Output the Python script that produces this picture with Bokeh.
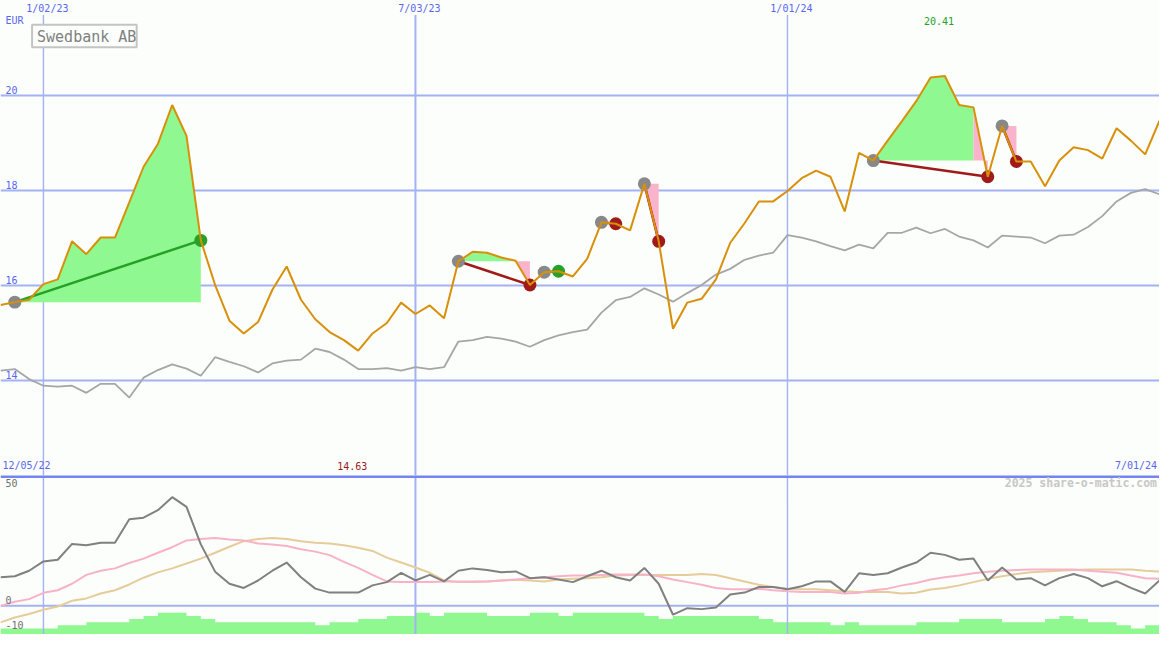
import numpy as np
import pandas as pd
from bokeh.plotting import figure
from bokeh.layouts import column
from bokeh.models import Range1d
from bokeh.core.properties import value
from bokeh.embed import file_html
from bokeh.resources import INLINE

# ---------------- data ----------------
title = "Swedbank AB"
currency = "EUR"
first_week = "2022-12-12"
range_start_label = "12/05/22"
range_end_label = "7/01/24"
watermark = "2025 share-o-matic.com"

price = [15.59, 15.65, 15.70, 16.03, 16.13, 16.93, 16.66, 17.01, 17.01, 17.75,
         18.50, 18.98, 19.80, 19.15, 16.95, 16.01, 15.26, 14.99, 15.23, 15.91,
         16.40, 15.70, 15.29, 15.02, 14.85, 14.63, 14.99, 15.21, 15.64, 15.40,
         15.58, 15.31, 16.51, 16.71, 16.69, 16.59, 16.52, 16.01, 16.28, 16.30,
         16.19, 16.56, 17.33, 17.30, 17.16, 18.14, 16.93, 15.09, 15.64, 15.72,
         16.13, 16.90, 17.31, 17.77, 17.77, 17.99, 18.26, 18.42, 18.29, 17.56,
         18.79, 18.63, 19.05, 19.46, 19.88, 20.38, 20.41, 19.80, 19.75, 18.29,
         19.36, 18.61, 18.61, 18.09, 18.63, 18.91, 18.85, 18.67, 19.31, 19.05,
         18.76, 19.47]

benchmark = [14.21, 14.24, 14.03, 13.89, 13.87, 13.89, 13.74, 13.93, 13.93, 13.64,
             14.06, 14.22, 14.34, 14.25, 14.10, 14.49, 14.39, 14.30, 14.17, 14.36,
             14.42, 14.44, 14.67, 14.60, 14.44, 14.24, 14.24, 14.26, 14.21, 14.28,
             14.24, 14.28, 14.82, 14.85, 14.92, 14.88, 14.82, 14.71, 14.85, 14.95,
             15.02, 15.07, 15.43, 15.69, 15.76, 15.94, 15.81, 15.66, 15.84, 16.01,
             16.23, 16.35, 16.54, 16.63, 16.69, 17.06, 17.01, 16.93, 16.83, 16.74,
             16.86, 16.78, 17.11, 17.11, 17.22, 17.10, 17.19, 17.03, 16.95, 16.80,
             17.05, 17.03, 17.01, 16.89, 17.05, 17.07, 17.23, 17.46, 17.77, 17.95,
             18.03, 17.92]

osc_main = [12.2, 12.6, 15.0, 19.0, 19.7, 26.5, 25.9, 27.0, 27.0, 37.1,
            37.8, 41.0, 46.6, 42.4, 26.3, 14.6, 9.4, 7.6, 10.8, 15.0,
            18.5, 12.2, 7.3, 5.6, 5.6, 5.6, 8.7, 10.1, 14.1, 10.8,
            13.2, 10.4, 15.0, 16.0, 15.3, 14.3, 14.7, 11.8, 12.2, 11.2,
            10.1, 12.6, 15.0, 12.2, 10.8, 16.2, 9.4, -3.9, -1.1, -1.5,
            -0.8, 4.8, 5.6, 8.0, 8.0, 7.0, 8.3, 10.4, 10.4, 5.9,
            13.9, 13.2, 13.9, 16.4, 18.5, 22.7, 21.8, 19.7, 20.2, 10.8,
            16.4, 11.2, 11.8, 8.7, 11.8, 13.6, 11.8, 8.3, 10.5, 7.6,
            5.2, 10.8]

osc_pink = [-0.1, 1.7, 2.8, 5.5, 6.6, 9.4, 13.2, 15.0, 16.0, 18.3,
            20.2, 22.7, 25.1, 28.0, 28.6, 29.1, 28.4, 28.0, 26.7, 26.3,
            25.6, 24.2, 23.2, 21.7, 18.8, 16.2, 13.2, 10.4, 10.1, 10.1,
            10.1, 10.4, 10.4, 10.4, 10.4, 10.8, 11.2, 11.8, 12.2, 12.6,
            12.9, 12.9, 13.2, 13.4, 13.4, 13.4, 12.6, 11.2, 10.1, 9.0,
            7.6, 7.0, 7.0, 7.3, 6.6, 6.2, 5.9, 5.9, 5.9, 5.2,
            5.5, 6.6, 7.3, 8.7, 9.7, 11.2, 12.2, 12.9, 13.9, 14.6,
            15.0, 15.3, 15.5, 15.5, 15.5, 15.5, 15.0, 14.6, 14.1, 12.9,
            11.8, 11.5]

osc_tan = [-7.2, -5.1, -3.6, -1.8, -0.4, 2.1, 3.1, 5.2, 6.6, 9.1,
           12.0, 14.3, 16.0, 18.1, 20.2, 22.7, 25.3, 27.7, 28.6, 29.1,
           28.6, 27.7, 27.0, 26.7, 25.9, 24.9, 23.5, 20.6, 18.5, 16.4,
           14.1, 10.8, 10.1, 10.1, 10.4, 10.8, 11.1, 10.8, 10.4, 11.2,
           11.5, 11.8, 12.2, 12.9, 13.2, 13.2, 13.2, 13.2, 13.2, 13.6,
           13.2, 11.8, 10.4, 9.0, 8.0, 7.3, 7.0, 7.0, 6.6, 6.2,
           5.9, 5.9, 5.9, 5.2, 5.5, 6.9, 7.6, 8.7, 10.1, 11.5,
           12.6, 13.6, 14.3, 14.7, 15.0, 15.3, 15.5, 15.5, 15.5, 15.5,
           15.0, 14.6]

volume_level = [1, 1, 1, 1, 2, 2, 3, 3, 3, 4, 5, 6, 6, 5, 4,
                3, 3, 3, 3, 3, 3, 3, 2, 3, 3, 4, 4, 5, 5, 6,
                5, 6, 6, 6, 5, 5, 5, 6, 6, 5, 6, 6, 6, 6, 6,
                5, 4, 5, 5, 5, 5, 5, 5, 4, 3, 3, 3, 3, 2, 3,
                2, 2, 2, 2, 3, 3, 3, 4, 4, 4, 3, 3, 3, 4, 5,
                4, 3, 3, 2, 1, 2]

trade_entry = [1, 32, 38, 42, 45, 61, 70]
trade_exit = [14, 37, 39, 43, 46, 69, 71]

price_ticks = [14, 16, 18, 20]
osc_ticks = [50, 0, -10]
osc_grid = [0]
date_lines = ["2023-01-02", "2023-07-03", "2024-01-01"]
date_labels = ["1/02/23", "7/03/23", "1/01/24"]
date_line_widths = [1.4, 2, 1.4]

# ---------------- styling ----------------
BG = "#fbfefa"
GRID = "#a4b2f2"
BLUE_TXT = "#5a66ee"
SEP = "#7484f0"
ORANGE = "#d8900a"
GREEN_FILL = "#90f890"
PINK_FILL = "#f9b4cc"
WIN = "#26a026"
LOSS = "#a01a1a"
FONT = value("DejaVu Sans Mono")

W, HT, HB = 1159, 475, 159

dates = pd.date_range(first_week, periods=len(price), freq="7D")
x = np.array([(d - pd.Timestamp("1970-01-01")) / pd.Timedelta(milliseconds=1) for d in dates])
WEEK = x[1] - x[0]
T_MIN, T_MAX = 12.0, 22.0
B_MIN, B_MAX = -12.4, 55.9


def xa(px):  # reference pixel column -> time
    return x[0] + px / 14.5 * WEEK


def yt(py):  # reference pixel row -> top panel value
    return T_MAX - py / 48.8


def yb(py):  # reference pixel row -> bottom panel value
    return B_MAX - (py - 488) * (B_MAX - B_MIN) / 162.0


def ms(d):
    return (pd.Timestamp(d) - pd.Timestamp("1970-01-01")) / pd.Timedelta(milliseconds=1)


dl = [ms(d) for d in date_lines]

# ---------------- top panel ----------------
p = figure(width=W, height=HT, x_range=Range1d(x[0], x[-1]), y_range=Range1d(T_MIN, T_MAX),
           x_axis_location=None, y_axis_location=None, output_backend="svg",
           toolbar_location=None, min_border=0, outline_line_color=None,
           background_fill_color=BG, border_fill_color=BG)
p.grid.visible = False

# grid
p.segment(x0=[x[0]] * len(price_ticks), x1=[x[-1]] * len(price_ticks),
          y0=price_ticks, y1=price_ticks, line_color=GRID, line_width=2)
for d, w in zip(dl, date_line_widths):
    p.segment(x0=[d], x1=[d], y0=[yt(15)], y1=[T_MIN], line_color=GRID, line_width=w)

# trade fills
fill_xs, fill_ys, fill_cols = [], [], []
for e, q in zip(trade_entry, trade_exit):
    base = price[e]
    j = e
    while j < q:
        up = price[j + 1] >= base
        m = j
        while m + 1 < q and (price[m + 2] >= base) == up:
            m += 1
        fill_xs.append([x[j]] + list(x[j:m + 2]) + [x[m + 1]])
        fill_ys.append([base] + list(price[j:m + 2]) + [base])
        fill_cols.append(GREEN_FILL if up else PINK_FILL)
        j = m + 1
p.patches(fill_xs, fill_ys, fill_color=fill_cols, line_color=None)

# benchmark
p.line(x, benchmark, line_color="#a6a6a6", line_width=1.8)

# trade connectors & markers
win = [price[q] >= price[e] for e, q in zip(trade_entry, trade_exit)]
tcol = [WIN if w else LOSS for w in win]
p.segment(x0=x[trade_entry], y0=[price[e] for e in trade_entry],
          x1=x[trade_exit], y1=[price[q] for q in trade_exit],
          line_color=tcol, line_width=2.5)
p.scatter(x[trade_entry], [price[e] for e in trade_entry], size=13,
          fill_color="#888888", line_color=None)
p.scatter(x[trade_exit], [price[q] for q in trade_exit], size=13,
          fill_color=tcol, line_color=None)

# price
p.line(x, price, line_color=ORANGE, line_width=2)

# title box
p.quad(left=[xa(32)], right=[xa(138)], top=[yt(25)], bottom=[yt(48)],
       fill_color=BG, line_color="#c4c4c4", line_width=2)
p.text(x=[xa(37)], y=[yt(37)], text=[title], text_font=FONT, text_font_size="15px",
       text_color="#808080", text_baseline="middle", text_align="left")

# labels
p.text(x=[xa(5)], y=[yt(21)], text=[currency], text_font=FONT, text_font_size="10px",
       text_color=BLUE_TXT, text_baseline="middle")
p.text(x=[xa(5)] * len(price_ticks), y=[t + 6 / 48.8 for t in price_ticks],
       text=[str(t) for t in price_ticks], text_font=FONT, text_font_size="10px",
       text_color=BLUE_TXT, text_baseline="middle")
p.text(x=[d + 4 / 14.5 * WEEK for d in dl], y=[yt(8)] * len(dl), text=date_labels,
       text_font=FONT, text_font_size="10px", text_color=BLUE_TXT,
       text_baseline="middle", text_align="center")
imax = int(np.argmax(price))
imin = int(np.argmin(price))
p.text(x=[x[imax] - 6 / 14.5 * WEEK], y=[yt(21)], text=[f"{price[imax]:.2f}"],
       text_font=FONT, text_font_size="10px", text_color=WIN,
       text_baseline="middle", text_align="center")
p.text(x=[x[imin] - 6 / 14.5 * WEEK], y=[yt(478)], text=[f"{price[imin]:.2f}"],
       text_font=FONT, text_font_size="10px", text_color=LOSS,
       text_baseline="middle", text_align="center")
p.text(x=[xa(2)], y=[yt(478)], text=[range_start_label], text_font=FONT,
       text_font_size="10px", text_color=BLUE_TXT, text_baseline="middle", text_align="left")
p.text(x=[xa(1172)], y=[yt(478)], text=[range_end_label], text_font=FONT,
       text_font_size="10px", text_color=BLUE_TXT, text_baseline="middle", text_align="right")

# ---------------- bottom panel ----------------
b = figure(width=W, height=HB, x_range=p.x_range, y_range=Range1d(B_MIN, B_MAX),
           x_axis_location=None, y_axis_location=None, output_backend="svg",
           toolbar_location=None, min_border=0, outline_line_color=None,
           background_fill_color=BG, border_fill_color=BG)
b.grid.visible = False
b.extra_y_ranges = {"vol": Range1d(-0.92, 49.75)}

b.varea_step(x=x, y1=[-0.92] * len(x), y2=volume_level + [volume_level[-1]],
             step_mode="after", fill_color=GREEN_FILL, y_range_name="vol")
b.segment(x0=[x[0]] * len(osc_grid), x1=[x[-1]] * len(osc_grid), y0=osc_grid, y1=osc_grid,
          line_color=GRID, line_width=2)
for d, w in zip(dl, date_line_widths):
    b.segment(x0=[d], x1=[d], y0=[B_MIN], y1=[B_MAX], line_color=GRID, line_width=w)
b.segment(x0=[x[0]], x1=[x[-1]], y0=[yb(489)], y1=[yb(489)], line_color=SEP, line_width=3)

b.line(x, osc_tan, line_color="#e6cc9a", line_width=2)
b.line(x, osc_pink, line_color="#f8b2c8", line_width=2)
b.line(x, osc_main, line_color="#808080", line_width=2)

tick_y = [yb(496), yb(615), yb(640)]
b.text(x=[xa(5)] * len(osc_ticks), y=tick_y, text=[str(t) for t in osc_ticks],
       text_font=FONT, text_font_size="10px", text_color="#707070", text_baseline="middle")
b.text(x=[xa(1172)], y=[yb(496)], text=[watermark], text_font=FONT,
       text_font_size="11.5px", text_font_style="bold", text_color="#c8c8c8",
       text_baseline="middle", text_align="right")

layout = column(p, b, spacing=0)
open("out.html", "w").write(file_html(layout, INLINE))
